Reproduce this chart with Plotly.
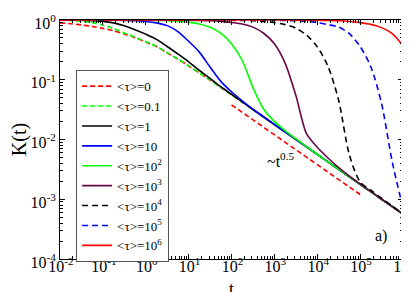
import plotly.graph_objects as go

# time grid (quarter decades)
t = [0.01, 0.01778, 0.03162, 0.05623, 0.1, 0.1778, 0.3162, 0.5623,
     1, 1.778, 3.162, 5.623, 10, 17.78, 31.62, 56.23,
     100, 177.8, 316.2, 562.3, 1000, 1778, 3162, 5623,
     1e4, 1.778e4, 3.162e4, 5.623e4, 1e5, 1.778e5, 3.162e5, 5.623e5, 1e6]

K_tau_0 = [0.896, 0.866, 0.827, 0.780, 0.724, 0.658, 0.585, 0.507,
           0.428, 0.361, 0.282, 0.2215, 0.1706, 0.1303, 0.0988, 0.0746,
           0.0561, 0.0422, 0.0317, 0.0238, 0.0178, 0.01338, 0.01003, 0.00752,
           0.00564, 0.00423, 0.00317, 0.00238, 0.00178, 0.00134, 0.00100, 0.000752, 0.000564]

K_tau_01 = [0.99, 0.975, 0.953, 0.905, 0.826, 0.718, 0.607, 0.515,
            0.433, 0.363, 0.284, 0.2225, 0.1712, 0.1305, 0.0988, 0.0746,
            0.0561, 0.0422, 0.0317, 0.0238, 0.0178, 0.01338, 0.01003, 0.00752,
            0.00564, 0.00423, 0.00317, 0.00238, 0.00178, 0.00134, 0.00100, 0.000752, 0.000564]

K_tau_1 = [0.997, 0.994, 0.988, 0.975, 0.95, 0.895, 0.80, 0.69,
           0.58, 0.475, 0.36, 0.27, 0.20, 0.143, 0.105, 0.0768,
           0.0572, 0.0426, 0.0318, 0.0238, 0.0178, 0.01338, 0.01003, 0.00752,
           0.00564, 0.00423, 0.00317, 0.00238, 0.00178, 0.00134, 0.00100, 0.000752, 0.000564]

K_tau_10 = [0.999, 0.999, 0.998, 0.997, 0.997, 0.994, 0.987, 0.973,
            0.946, 0.896, 0.805, 0.64, 0.44, 0.29, 0.163, 0.094,
            0.063, 0.0445, 0.0322, 0.0240, 0.0179, 0.01338, 0.01003, 0.00752,
            0.00564, 0.00423, 0.00317, 0.00238, 0.00178, 0.00134, 0.00100, 0.000752, 0.000564]

K_tau_1e2 = [1.0, 1.0, 1.0, 1.0, 0.9995, 0.999, 0.998, 0.996,
             0.992, 0.986, 0.976, 0.958, 0.921, 0.858, 0.756, 0.602,
             0.40, 0.21, 0.074, 0.0324, 0.0201, 0.0141, 0.0103, 0.0076,
             0.00566, 0.00423, 0.00317, 0.00238, 0.00178, 0.00134, 0.00100, 0.000752, 0.000564]

K_tau_1e3 = [1.0, 1.0, 1.0, 1.0, 1.0, 1.0, 1.0, 1.0,
             0.999, 0.998, 0.997, 0.994, 0.990, 0.983, 0.970, 0.947,
             0.908, 0.86, 0.76, 0.60, 0.40, 0.19, 0.055, 0.0125,
             0.0074, 0.0049, 0.00338, 0.00243, 0.00180, 0.00134, 0.00100, 0.000752, 0.000564]

K_tau_1e4 = [1.0, 1.0, 1.0, 1.0, 1.0, 1.0, 1.0, 1.0,
             1.0, 1.0, 1.0, 1.0, 0.999, 0.998, 0.997, 0.994,
             0.990, 0.982, 0.969, 0.945, 0.905, 0.837, 0.73, 0.56,
             0.355, 0.168, 0.045, 0.0055, 0.00195, 0.00142, 0.00104, 0.00077, 0.000575]

K_tau_1e5 = [1.0, 1.0, 1.0, 1.0, 1.0, 1.0, 1.0, 1.0,
             1.0, 1.0, 1.0, 1.0, 1.0, 1.0, 1.0, 1.0,
             0.999, 0.998, 0.997, 0.994, 0.990, 0.982, 0.969, 0.945,
             0.905, 0.837, 0.76, 0.59, 0.36, 0.165, 0.040, 0.0042, 0.00072]

K_tau_1e6 = [1.0, 1.0, 1.0, 1.0, 1.0, 1.0, 1.0, 1.0,
             1.0, 1.0, 1.0, 1.0, 1.0, 1.0, 1.0, 1.0,
             1.0, 1.0, 1.0, 1.0, 0.999, 0.998, 0.997, 0.994,
             0.990, 0.982, 0.969, 0.945, 0.905, 0.845, 0.745, 0.59, 0.37]

# reference power law ~ t^-0.5
ref_t = [100, 1e5]
ref_K = [0.038, 0.0012]

names = ["&lt;τ&gt;=0", "&lt;τ&gt;=0.1", "&lt;τ&gt;=1", "&lt;τ&gt;=10",
         "&lt;τ&gt;=10<sup>2</sup>", "&lt;τ&gt;=10<sup>3</sup>", "&lt;τ&gt;=10<sup>4</sup>",
         "&lt;τ&gt;=10<sup>5</sup>", "&lt;τ&gt;=10<sup>6</sup>"]
series = [K_tau_0, K_tau_01, K_tau_1, K_tau_10, K_tau_1e2, K_tau_1e3, K_tau_1e4, K_tau_1e5, K_tau_1e6]
colors = ["#ff0000", "#00ff00", "#000000", "#0000ff", "#00ff00", "#670748", "#000000", "#0000ff", "#ff0000"]
dashes = ["5px,3px", "5px,3px", "solid", "solid", "solid", "solid", "6px,4px", "6px,4px", "solid"]

x_tickvals = [1e-2, 1e-1, 1, 10, 1e2, 1e3, 1e4, 1e5, 1e6]
x_ticktext = ["10<sup>-2</sup>", "10<sup>-1</sup>", "10<sup>0</sup>", "10<sup>1</sup>", "10<sup>2</sup>",
              "10<sup>3</sup>", "10<sup>4</sup>", "10<sup>5</sup>", "10<sup>6</sup>"]
y_tickvals = [1e-4, 1e-3, 1e-2, 1e-1, 1]
y_ticktext = ["10<sup>-4</sup>", "10<sup>-3</sup>", "10<sup>-2</sup>", "10<sup>-1</sup>", "10<sup>0</sup>"]

FONT = "Liberation Serif"

fig = go.Figure()
for name, K, c, d in zip(names, series, colors, dashes):
    fig.add_trace(go.Scatter(x=t, y=K, mode="lines", name=name,
                             line=dict(color=c, width=1.6, dash=d, shape="spline", smoothing=0.8)))

fig.add_trace(go.Scatter(x=ref_t, y=ref_K, mode="lines", showlegend=False,
                         line=dict(color="#ff0000", width=1.6, dash="5px,3px")))

minor_x = [m * 10 ** e for e in range(-2, 6) for m in range(2, 10)]
minor_y = [m * 10 ** e for e in range(-4, 0) for m in range(2, 10)]

fig.update_layout(
    width=409, height=292,
    margin=dict(l=52, r=14, t=12, b=41, autoexpand=False),
    paper_bgcolor="white", plot_bgcolor="white",
    font=dict(family=FONT, size=16, color="black"),
    showlegend=True,
    legend=dict(x=0.047, y=0.79, xanchor="left", yanchor="top",
                bgcolor="white", bordercolor="#555555", borderwidth=1,
                font=dict(family=FONT, size=13), tracegroupgap=0),
    xaxis=dict(type="log", range=[-2, 6], tickmode="array", tickvals=x_tickvals, ticktext=x_ticktext,
               ticks="inside", ticklen=5, tickwidth=1, tickcolor="black",
               showline=True, linecolor="black", linewidth=1, mirror="allticks",
               showgrid=False, zeroline=False, automargin=False,
               ticklabelshift=1, ticklabelstandoff=-7,
               minor=dict(tickmode="array", tickvals=minor_x, ticks="inside", ticklen=3, tickcolor="black", showgrid=False),
               tickfont=dict(family=FONT, size=16)),
    yaxis=dict(type="log", range=[-4, 0], tickmode="array", tickvals=y_tickvals, ticktext=y_ticktext,
               ticks="inside", ticklen=5, tickwidth=1, tickcolor="black",
               showline=True, linecolor="black", linewidth=1, mirror="allticks",
               showgrid=False, zeroline=False, automargin=False, ticklabelshift=3,
               minor=dict(tickmode="array", tickvals=minor_y, ticks="inside", ticklen=3, tickcolor="black", showgrid=False),
               title=dict(text="K(t)", font=dict(family=FONT, size=20), standoff=2),
               tickfont=dict(family=FONT, size=16)),
    annotations=[
        dict(x=0.5, y=-0.125, xref="paper", yref="paper", text="t", showarrow=False,
             yanchor="middle", font=dict(family=FONT, size=18)),
        dict(x=3.16, y=-2.35, xref="x", yref="y", text="~t<sup>0.5</sup>", showarrow=False,
             font=dict(family=FONT, size=16)),
        dict(x=0.959, y=0.05, xref="paper", yref="paper", text="a)", showarrow=False,
             font=dict(family=FONT, size=16)),
    ],
)

fig.write_html("out.html")
